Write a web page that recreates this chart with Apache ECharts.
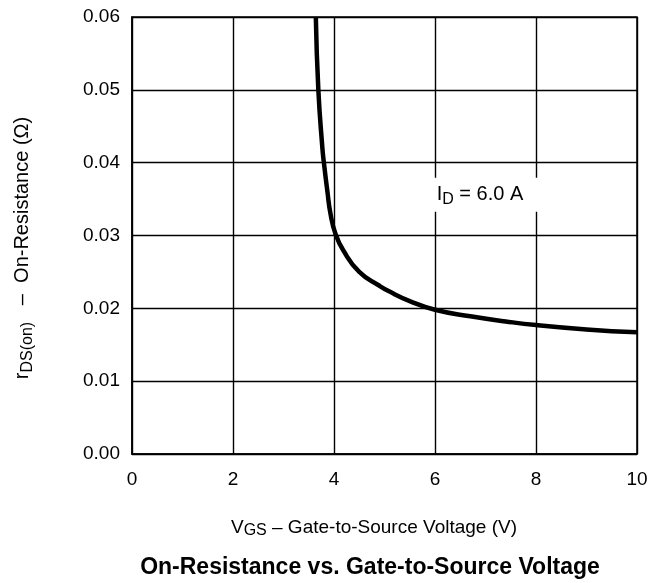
<!DOCTYPE html>
<html>
<head>
<meta charset="utf-8">
<script src="https://cdn.jsdelivr.net/npm/echarts@6/dist/echarts.min.js"></script>
<style>html,body{margin:0;padding:0;background:#fff}#c{width:662px;height:583px}</style>
</head>
<body>
<div id="c"></div>
<script>
const vgs = [3.64,3.69,3.77,3.80,3.87,3.93,4.03,4.18,4.5,4.9,5.1,5.5,6.0,6.7,7.4,8.0,9.0,10.0];
const rds = [0.060,0.050,0.042,0.040,0.0360,0.0330,0.0302,0.0280,0.0250,0.0231,0.0223,0.0210,0.0198,0.0189,0.0182,0.0177,0.0171,0.0167];
const xTicks = [0,2,4,6,8,10];
const yTicks = [0.00,0.01,0.02,0.03,0.04,0.05,0.06];
const labelPos = [6.99, 0.0356];
const FONT = 'Liberation Sans, Arial, sans-serif';

const chart = echarts.init(document.getElementById('c'));
chart.setOption({
  animation: false,
  backgroundColor: '#fff',
  grid: {left: 132, right: 25, top: 17, bottom: 129, show: true, borderColor: '#000', borderWidth: 1.5},
  xAxis: {
    type: 'value', min: xTicks[0], max: xTicks[xTicks.length-1], interval: 2,
    axisLine: {show: true, lineStyle: {color: '#000', width: 1.5}},
    axisTick: {show: false},
    axisLabel: {color: '#000', fontSize: 19, fontFamily: FONT, margin: 16},
    splitLine: {show: true, lineStyle: {color: '#000', width: 1.4}}
  },
  yAxis: {
    type: 'value', min: yTicks[0], max: yTicks[yTicks.length-1], interval: 0.01,
    axisLine: {show: true, lineStyle: {color: '#000', width: 1.5}},
    axisTick: {show: false},
    axisLabel: {color: '#000', fontSize: 19, fontFamily: FONT, margin: 12, formatter: v => v.toFixed(2)},
    splitLine: {show: true, lineStyle: {color: '#000', width: 1.4}}
  },
  series: [{
    type: 'line',
    data: vgs.map((x,i) => [x, rds[i]]),
    smooth: 0.5,
    showSymbol: false,
    lineStyle: {color: '#000', width: 4.5},
    markPoint: {
      symbol: 'rect', symbolSize: [108, 34],
      itemStyle: {color: '#fff'},
      data: [{coord: labelPos}],
      label: {
        show: true, position: 'inside', offset: [-5, 0],
        formatter: 'I{sub|D} = 6.0 A',
        color: '#000', fontSize: 20, fontFamily: FONT,
        rich: {sub: {fontSize: 16, fontFamily: FONT, color: '#000', padding: [10, 0, 0, 0]}}
      }
    }
  }],
  graphic: [
    {type: 'text', x: 22, y: 248, rotation: Math.PI/2,
     style: {text: 'r{sub|DS(on)}   –  On-Resistance (Ω)', align: 'center', verticalAlign: 'middle',
       fill: '#000', fontSize: 20, fontFamily: FONT,
       rich: {sub: {fontSize: 16, fontFamily: FONT, fill: '#000', padding: [12,0,0,0]}}}},
    {type: 'text', x: 374, y: 528,
     style: {text: 'V{sub|GS} – Gate-to-Source Voltage (V)', align: 'center', verticalAlign: 'middle',
       fill: '#000', fontSize: 19, fontFamily: FONT,
       rich: {sub: {fontSize: 16, fontFamily: FONT, fill: '#000', padding: [6,0,0,0]}}}},
    {type: 'text', x: 370, y: 568,
     style: {text: 'On-Resistance vs. Gate-to-Source Voltage', align: 'center', verticalAlign: 'middle',
       fill: '#000', fontSize: 23, fontWeight: 'bold', fontFamily: FONT}}
  ]
});
</script>
</body>
</html>
